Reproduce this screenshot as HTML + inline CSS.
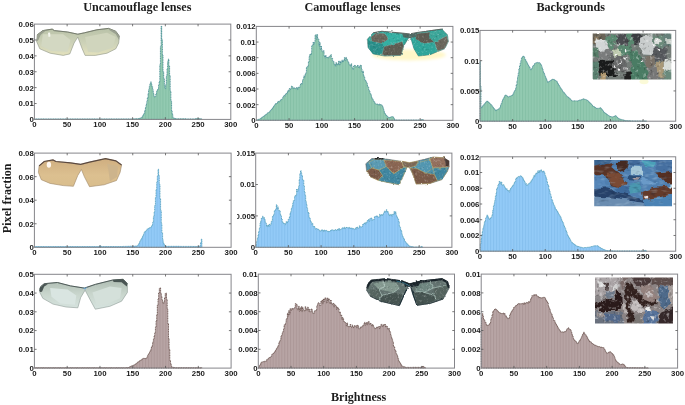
<!DOCTYPE html>
<html><head><meta charset="utf-8"><title>Brightness histograms</title>
<style>
html,body{margin:0;padding:0;background:#fff;}
body{width:685px;height:405px;overflow:hidden;position:relative;}
svg text{font-family:"Liberation Sans",sans-serif;}
.tk text{font-family:"Liberation Sans",sans-serif;font-weight:bold;font-size:7.8px;fill:#1a1a1a;}
.tt text{font-family:"Liberation Serif",serif;font-weight:bold;font-size:12.15px;fill:#1c1c1c;}
</style></head><body>
<svg width="685" height="405" viewBox="0 0 685 405" style="position:absolute;left:0;top:0">
<rect width="685" height="405" fill="#fff"/>
<defs><clipPath id="c5"><rect x="237.0" y="140" width="300" height="120"/></clipPath>
<pattern id="stg" width="2.9" height="10" patternUnits="userSpaceOnUse"><rect width="1.1" height="10" fill="#0a5a40" fill-opacity="0.07"/><rect x="1.6" width="0.8" height="10" fill="#fff" fill-opacity="0.08"/></pattern>
<pattern id="stb" width="2.9" height="10" patternUnits="userSpaceOnUse"><rect width="1.1" height="10" fill="#0a4a80" fill-opacity="0.07"/><rect x="1.6" width="0.8" height="10" fill="#fff" fill-opacity="0.08"/></pattern>
<pattern id="str" width="2.9" height="10" patternUnits="userSpaceOnUse"><rect width="1.1" height="10" fill="#3a1a1a" fill-opacity="0.07"/><rect x="1.6" width="0.8" height="10" fill="#fff" fill-opacity="0.08"/></pattern>
</defs>
<defs><path id="h1" d="M34.4,118.9H34.7V118.9H35.4V118.9H36.0V118.9H36.7V118.9H37.3V118.9H38.0V118.9H38.7V118.9H39.3V118.9H40.0V118.9H40.6V118.9H41.3V118.9H41.9V118.9H42.6V118.9H43.2V118.9H43.9V118.9H44.5V118.9H45.2V118.9H45.9V118.9H46.5V118.9H47.2V118.9H47.8V118.9H48.5V118.9H49.1V118.9H49.8V118.9H50.4V118.9H51.1V118.9H51.7V118.9H52.4V118.9H53.1V118.9H53.7V118.9H54.4V118.9H55.0V118.9H55.7V118.9H56.3V118.9H57.0V118.9H57.6V118.9H58.3V118.9H59.0V118.9H59.6V118.9H60.3V118.9H60.9V118.9H61.6V118.9H62.2V118.9H62.9V118.9H63.5V118.9H64.2V118.9H64.8V118.9H65.5V118.9H66.2V118.9H66.8V118.9H67.5V118.9H68.1V118.9H68.8V118.9H69.4V118.9H70.1V118.9H70.7V118.9H71.4V118.9H72.0V118.9H72.7V118.9H73.4V118.9H74.0V118.9H74.7V118.9H75.3V118.9H76.0V118.9H76.6V118.9H77.3V118.9H77.9V118.9H78.6V118.9H79.2V118.9H79.9V118.9H80.6V118.9H81.2V118.9H81.9V118.9H82.5V118.9H83.2V118.9H83.8V118.9H84.5V118.9H85.1V118.9H85.8V118.9H86.4V118.9H87.1V118.9H87.8V118.9H88.4V118.9H89.1V118.9H89.7V118.9H90.4V118.9H91.0V118.9H91.7V118.9H92.3V118.9H93.0V118.9H93.6V118.9H94.3V118.9H95.0V118.9H95.6V118.9H96.3V118.9H96.9V118.9H97.6V118.9H98.2V118.9H98.9V118.9H99.5V118.9H100.2V118.9H100.8V118.9H101.5V118.9H102.2V118.9H102.8V118.9H103.5V118.9H104.1V118.9H104.8V118.9H105.4V118.9H106.1V118.9H106.7V118.9H107.4V118.9H108.1V118.9H108.7V118.9H109.4V118.9H110.0V118.9H110.7V118.9H111.3V118.9H112.0V118.9H112.6V118.9H113.3V118.9H113.9V118.9H114.6V118.9H115.3V118.9H115.9V118.9H116.6V118.9H117.2V118.9H117.9V118.9H118.5V118.9H119.2V118.9H119.8V118.9H120.5V118.9H121.1V118.9H121.8V118.9H122.5V118.9H123.1V118.9H123.8V118.9H124.4V118.9H125.1V118.9H125.7V118.9H126.4V118.9H127.0V118.9H127.7V118.9H128.3V118.9H129.0V118.9H129.7V118.9H130.3V118.9H131.0V118.9H131.6V118.9H132.3V118.9H132.9V118.9H133.6V118.9H134.2V118.8H134.9V118.8H135.5V118.8H136.2V118.7H136.9V118.7H137.5V118.7H138.2V118.6H138.8V118.6H139.5V118.3H140.1V118.1H140.8V117.8H141.4V117.5H142.1V116.4H142.7V115.3H143.4V114.1H144.1V113.1H144.7V110.3H145.4V107.4H146.0V104.5H146.7V101.7H147.3V97.8H148.0V93.7H148.6V89.8H149.3V86.3H149.9V83.9H150.6V81.9H151.3V84.4H151.9V86.5H152.6V89.7H153.2V93.1H153.9V96.2H154.5V96.9H155.2V96.5H155.8V93.7H156.5V91.2H157.2V89.8H157.8V88.9H158.5V85.3H159.1V81.6H159.8V64.8H160.4V46.7H161.1V26.1H161.7V39.8H162.4V55.2H163.0V71.8H163.7V78.7H164.4V85.7H165.0V88.6H165.7V84.8H166.3V76.0H167.0V68.9H167.6V61.8H168.3V59.1H168.9V65.9H169.6V75.6H170.2V91.0H170.9V101.0H171.6V111.3H172.2V114.6H172.9V117.8H173.5V118.0H174.2V118.3H174.8V118.5H175.5V118.8H176.1V118.8H176.8V118.8H177.4V118.8H178.1V118.8H178.8V118.8H179.4V118.8H180.1V118.8H180.7V118.8H181.4V118.8H182.0V118.8H182.7V118.8H183.3V118.8H184.0V118.8H184.6V118.8H185.3V118.8H186.0V118.9H186.6V118.9H187.3V118.9H187.9V118.9H188.6V118.9H189.2V118.9H189.9V118.9H190.5V118.9H191.2V118.9H191.8V118.9H192.5V118.9H193.2V118.9H193.8V118.9H194.5V118.9H195.1V118.8H195.8V118.7H196.4V118.6H197.1V118.5H197.7V118.4H198.4V118.5H199.0V118.6H199.7V118.7H200.4V118.8H201.0V118.9H201.7V119.4H34.4Z"/></defs>
<use href="#h1" fill="#8ec8ae"/>
<use href="#h1" fill="url(#stg)"/>
<use href="#h1" fill="none" stroke="#3c8590" stroke-width="0.8" stroke-dasharray="1.1 0.6" stroke-linejoin="round"/>
<defs><path id="h2" d="M256.3,120.3H256.6V120.0H257.3V119.8H257.9V119.5H258.6V119.2H259.2V119.0H259.9V118.8H260.6V118.3H261.2V117.8H261.9V117.2H262.5V116.9H263.2V116.3H263.8V116.0H264.5V115.5H265.1V114.8H265.8V114.4H266.5V113.9H267.1V113.3H267.8V112.7H268.4V112.5H269.1V111.9H269.7V111.2H270.4V110.4H271.0V109.4H271.7V108.8H272.4V107.9H273.0V107.1H273.7V105.7H274.3V105.2H275.0V104.3H275.6V103.6H276.3V103.9H276.9V102.9H277.6V101.6H278.3V101.2H278.9V101.8H279.6V101.2H280.2V100.0H280.9V100.1H281.5V99.2H282.2V98.9H282.8V97.1H283.5V96.2H284.2V95.2H284.8V96.0H285.5V94.0H286.1V93.3H286.8V93.8H287.4V91.2H288.1V90.1H288.7V91.3H289.4V88.5H290.0V89.3H290.7V88.3H291.4V86.0H292.0V86.5H292.7V88.6H293.3V87.9H294.0V87.7H294.6V88.3H295.3V88.8H295.9V88.5H296.6V87.5H297.3V89.6H297.9V87.6H298.6V87.1H299.2V87.5H299.9V85.7H300.5V83.9H301.2V83.3H301.8V84.0H302.5V79.9H303.2V79.0H303.8V75.9H304.5V77.0H305.1V74.1H305.8V72.9H306.4V67.3H307.1V67.4H307.7V65.8H308.4V61.8H309.1V56.5H309.7V54.3H310.4V55.0H311.0V53.1H311.7V45.6H312.3V45.5H313.0V42.2H313.6V44.2H314.3V42.2H315.0V35.2H315.6V34.8H316.3V39.3H316.9V34.6H317.6V38.7H318.2V39.3H318.9V46.0H319.5V42.4H320.2V49.5H320.9V46.0H321.5V49.8H322.2V51.8H322.8V51.7H323.5V50.7H324.1V55.9H324.8V57.9H325.4V55.5H326.1V57.1H326.7V57.7H327.4V57.3H328.1V57.9H328.7V56.9H329.4V56.2H330.0V56.1H330.7V54.6H331.3V58.4H332.0V58.3H332.6V61.2H333.3V61.4H334.0V64.3H334.6V64.1H335.3V66.4H335.9V62.6H336.6V63.4H337.2V65.1H337.9V63.5H338.5V61.0H339.2V65.1H339.9V61.3H340.5V63.1H341.2V62.4H341.8V60.1H342.5V62.0H343.1V61.0H343.8V59.6H344.4V57.5H345.1V60.6H345.8V57.4H346.4V58.8H347.1V59.8H347.7V61.7H348.4V62.6H349.0V64.7H349.7V65.0H350.3V66.2H351.0V63.7H351.7V66.9H352.3V68.2H353.0V69.4H353.6V66.0H354.3V65.3H354.9V65.7H355.6V67.1H356.2V66.8H356.9V66.0H357.5V65.2H358.2V67.3H358.9V66.4H359.5V67.9H360.2V65.1H360.8V65.6H361.5V69.4H362.1V72.5H362.8V71.1H363.4V75.6H364.1V77.1H364.8V80.2H365.4V80.5H366.1V81.9H366.7V83.6H367.4V86.4H368.0V87.2H368.7V90.4H369.3V91.3H370.0V93.4H370.7V94.3H371.3V96.8H372.0V98.5H372.6V99.5H373.3V100.9H373.9V101.6H374.6V102.9H375.2V103.9H375.9V104.1H376.6V104.1H377.2V104.0H377.9V104.7H378.5V104.9H379.2V104.0H379.8V105.3H380.5V104.6H381.1V104.8H381.8V105.7H382.5V106.7H383.1V108.8H383.8V111.1H384.4V113.1H385.1V113.9H385.7V115.0H386.4V115.6H387.0V116.4H387.7V117.1H388.3V117.9H389.0V117.6H389.7V117.5H390.3V117.1H391.0V116.9H391.6V116.7H392.3V116.6H392.9V117.0H393.6V118.0H394.2V119.0H394.9V120.1H395.6V120.1H396.2V120.1H396.9V120.1H397.5V120.1H398.2V120.1H398.8V120.1H399.5V120.1H400.1V120.1H400.8V120.1H401.5V120.1H402.1V120.1H402.8V120.1H403.4V120.1H404.1V120.1H404.7V120.1H405.4V120.1H406.0V120.1H406.7V120.1H407.4V120.1H408.0V120.1H408.7V120.1H409.3V120.1H410.0V120.1H410.6V120.1H411.3V120.1H411.9V120.1H412.6V120.1H413.3V120.1H413.9V120.1H414.6V120.1H415.2V120.1H415.9V120.1H416.5V120.1H417.2V120.1H417.8V120.1H418.5V120.1H419.2V120.1H419.8V120.1H420.5V120.0H421.1V119.8H421.8V119.7H422.4V119.5H423.1V120.1H423.7V120.3H256.3Z"/></defs>
<use href="#h2" fill="#8ec8ae"/>
<use href="#h2" fill="url(#stg)"/>
<use href="#h2" fill="none" stroke="#3c8590" stroke-width="0.8" stroke-dasharray="1.1 0.6" stroke-linejoin="round"/>
<defs><path id="h3" d="M480.0,61.3H480.3V86.2H481.0V107.8H481.6V107.1H482.3V106.2H482.9V105.4H483.6V104.8H484.2V103.9H484.9V103.0H485.5V102.3H486.2V101.7H486.8V101.0H487.5V101.6H488.2V102.0H488.8V102.8H489.5V103.3H490.1V104.0H490.8V104.7H491.4V105.4H492.1V106.4H492.7V107.1H493.4V108.0H494.0V108.8H494.7V109.7H495.3V110.6H496.0V110.1H496.6V109.9H497.3V109.6H497.9V109.3H498.6V108.8H499.2V108.5H499.9V106.8H500.5V105.1H501.2V103.3H501.9V101.5H502.5V99.6H503.2V98.4H503.8V97.1H504.5V95.9H505.1V95.1H505.8V95.2H506.4V95.7H507.1V96.0H507.7V96.7H508.4V97.0H509.0V96.7H509.7V96.1H510.3V96.0H511.0V95.7H511.6V95.4H512.3V95.1H512.9V93.9H513.6V92.6H514.2V90.9H514.9V89.9H515.6V88.3H516.2V84.8H516.9V80.9H517.5V76.9H518.2V73.3H518.8V69.2H519.5V66.0H520.1V63.3H520.8V60.7H521.4V58.1H522.1V57.1H522.7V56.4H523.4V56.1H524.0V57.2H524.7V59.2H525.3V59.8H526.0V61.3H526.6V62.2H527.3V63.6H527.9V65.1H528.6V66.5H529.3V67.0H529.9V68.9H530.6V69.8H531.2V68.9H531.9V67.9H532.5V66.5H533.2V65.3H533.8V64.9H534.5V63.5H535.1V63.5H535.8V62.8H536.4V62.6H537.1V62.4H537.7V62.7H538.4V63.0H539.0V62.7H539.7V63.4H540.3V64.0H541.0V65.1H541.6V66.9H542.3V69.2H543.0V71.2H543.6V73.0H544.3V74.7H544.9V76.1H545.6V77.9H546.2V79.4H546.9V81.0H547.5V82.4H548.2V81.8H548.8V81.4H549.5V81.2H550.1V80.7H550.8V80.2H551.4V79.8H552.1V79.4H552.7V79.1H553.4V79.4H554.0V79.4H554.7V80.4H555.3V80.6H556.0V81.0H556.6V81.3H557.3V82.8H558.0V84.0H558.6V85.1H559.3V86.2H559.9V87.4H560.6V88.3H561.2V89.2H561.9V90.1H562.5V91.4H563.2V92.2H563.8V92.8H564.5V93.6H565.1V94.6H565.8V95.4H566.4V96.2H567.1V96.7H567.7V97.0H568.4V97.6H569.0V98.2H569.7V98.7H570.3V99.5H571.0V100.1H571.7V100.7H572.3V100.9H573.0V100.9H573.6V100.8H574.3V100.8H574.9V100.9H575.6V100.8H576.2V100.9H576.9V100.9H577.5V101.0H578.2V100.5H578.8V100.5H579.5V100.0H580.1V99.9H580.8V99.8H581.4V99.7H582.1V99.4H582.7V99.1H583.4V98.8H584.0V99.1H584.7V99.4H585.4V99.6H586.0V99.9H586.7V100.2H587.3V100.6H588.0V101.0H588.6V101.9H589.3V102.5H589.9V103.1H590.6V103.7H591.2V104.5H591.9V105.1H592.5V105.9H593.2V106.4H593.8V106.8H594.5V107.1H595.1V107.6H595.8V108.1H596.4V108.6H597.1V108.4H597.7V108.3H598.4V108.2H599.1V108.1H599.7V107.9H600.4V107.8H601.0V108.7H601.7V109.6H602.3V110.3H603.0V111.1H603.6V111.9H604.3V112.8H604.9V113.1H605.6V113.6H606.2V114.1H606.9V114.6H607.5V114.9H608.2V115.5H608.8V115.9H609.5V116.4H610.1V116.5H610.8V116.6H611.4V116.8H612.1V116.9H612.7V116.7H613.4V116.5H614.1V116.3H614.7V116.0H615.4V115.7H616.0V116.3H616.7V117.0H617.3V117.6H618.0V118.2H618.6V118.8H619.3V119.0H619.9V119.2H620.6V119.3H621.2V119.5H621.9V119.7H622.5V119.9H623.2V120.0H623.8V120.2H624.5V120.4H625.1V120.6H625.8V120.6H626.4V120.7H627.1V120.7H627.8V120.7H628.4V120.8H629.1V120.8H629.7V120.8H630.4V120.9H631.0V120.9H631.7V120.9H632.3V121.0H633.0V121.0H633.6V121.0H634.3V121.0H634.9V121.0H635.6V121.0H636.2V121.0H636.9V121.0H637.5V121.0H638.2V121.0H638.8V121.0H639.5V121.0H640.1V121.1H640.8V121.1H641.5V121.1H642.1V121.1H642.8V121.1H643.4V121.1H644.1V121.1H644.7V121.1H645.4V121.1H646.0V121.1H646.7V121.2H480.0Z"/></defs>
<use href="#h3" fill="#8ec8ae"/>
<use href="#h3" fill="url(#stg)"/>
<use href="#h3" fill="none" stroke="#3c8590" stroke-width="0.8" stroke-dasharray="1.1 0.6" stroke-linejoin="round"/>
<defs><path id="h4" d="M34.4,246.6H34.7V246.6H35.4V246.6H36.0V246.6H36.7V246.6H37.4V246.6H38.0V246.6H38.7V246.6H39.3V246.6H40.0V246.6H40.6V246.6H41.3V246.6H41.9V246.6H42.6V246.6H43.3V246.6H43.9V246.6H44.6V246.6H45.2V246.6H45.9V246.6H46.5V246.6H47.2V246.6H47.8V246.6H48.5V246.6H49.2V246.6H49.8V246.6H50.5V246.6H51.1V246.6H51.8V246.6H52.4V246.6H53.1V246.6H53.7V246.6H54.4V246.6H55.1V246.6H55.7V246.6H56.4V246.6H57.0V246.6H57.7V246.6H58.3V246.6H59.0V246.6H59.6V246.6H60.3V246.6H61.0V246.6H61.6V246.6H62.3V246.6H62.9V246.6H63.6V246.6H64.2V246.6H64.9V246.6H65.5V246.6H66.2V246.6H66.9V246.6H67.5V246.6H68.2V246.6H68.8V246.6H69.5V246.6H70.1V246.6H70.8V246.6H71.4V246.6H72.1V246.6H72.8V246.6H73.4V246.6H74.1V246.6H74.7V246.6H75.4V246.6H76.0V246.6H76.7V246.6H77.3V246.6H78.0V246.6H78.7V246.6H79.3V246.6H80.0V246.6H80.6V246.6H81.3V246.6H81.9V246.6H82.6V246.6H83.2V246.6H83.9V246.6H84.6V246.6H85.2V246.6H85.9V246.6H86.5V246.6H87.2V246.6H87.8V246.6H88.5V246.6H89.1V246.6H89.8V246.6H90.5V246.6H91.1V246.6H91.8V246.6H92.4V246.6H93.1V246.6H93.7V246.6H94.4V246.6H95.0V246.6H95.7V246.6H96.4V246.6H97.0V246.6H97.7V246.6H98.3V246.6H99.0V246.2H99.6V245.9H100.3V246.1H101.0V246.3H101.6V246.5H102.3V246.5H102.9V246.5H103.6V246.5H104.2V246.5H104.9V246.5H105.5V246.5H106.2V246.5H106.9V246.5H107.5V246.5H108.2V246.5H108.8V246.5H109.5V246.5H110.1V246.5H110.8V246.5H111.4V246.5H112.1V246.5H112.8V246.5H113.4V246.5H114.1V246.5H114.7V246.5H115.4V246.5H116.0V246.5H116.7V246.5H117.3V246.5H118.0V246.5H118.7V246.5H119.3V246.5H120.0V246.5H120.6V246.5H121.3V246.5H121.9V246.5H122.6V246.5H123.2V246.4H123.9V246.4H124.6V246.4H125.2V246.4H125.9V246.4H126.5V246.3H127.2V246.3H127.8V246.3H128.5V246.3H129.1V246.2H129.8V246.2H130.5V246.2H131.1V246.2H131.8V246.2H132.4V246.1H133.1V246.1H133.7V246.1H134.4V246.1H135.0V246.1H135.7V246.1H136.4V246.1H137.0V245.8H137.7V245.4H138.3V244.2H139.0V243.0H139.6V241.7H140.3V240.6H140.9V239.3H141.6V238.0H142.3V236.6H142.9V235.4H143.6V234.0H144.2V232.3H144.9V231.5H145.5V231.0H146.2V230.4H146.8V229.2H147.5V228.9H148.2V228.3H148.8V228.1H149.5V227.7H150.1V227.7H150.8V227.0H151.4V226.3H152.1V224.4H152.7V222.3H153.4V216.8H154.1V212.0H154.7V205.6H155.4V197.5H156.0V189.4H156.7V182.5H157.3V176.2H158.0V169.2H158.6V175.6H159.3V184.5H160.0V198.7H160.6V210.8H161.3V223.7H161.9V232.9H162.6V239.8H163.2V243.0H163.9V244.3H164.5V245.7H165.2V246.2H165.9V246.3H166.5V246.3H167.2V246.3H167.8V246.3H168.5V246.3H169.1V246.3H169.8V246.3H170.5V246.3H171.1V246.3H171.8V246.3H172.4V246.3H173.1V246.3H173.7V246.3H174.4V246.3H175.0V246.3H175.7V246.3H176.4V246.3H177.0V246.3H177.7V246.3H178.3V246.3H179.0V246.3H179.6V246.3H180.3V246.4H180.9V246.4H181.6V246.4H182.3V246.4H182.9V246.4H183.6V246.4H184.2V246.4H184.9V246.4H185.5V246.4H186.2V246.4H186.8V246.4H187.5V246.4H188.2V246.4H188.8V246.4H189.5V246.4H190.1V246.4H190.8V246.4H191.4V246.4H192.1V246.4H192.7V246.4H193.4V246.5H194.1V246.4H194.7V246.4H195.4V246.5H196.0V246.5H196.7V246.5H197.3V246.5H198.0V246.5H198.6V246.3H199.3V246.1H200.0V246.0H200.6V242.5H201.3V239.0H201.9V247.3H34.4Z"/></defs>
<use href="#h4" fill="#8fc9f7"/>
<use href="#h4" fill="url(#stb)"/>
<use href="#h4" fill="none" stroke="#4a9ab8" stroke-width="0.8" stroke-dasharray="1.1 0.6" stroke-linejoin="round"/>
<defs><path id="h5" d="M255.7,247.3H256.0V244.2H256.7V241.0H257.3V238.1H258.0V235.1H258.6V231.5H259.3V228.3H260.0V222.9H260.6V221.1H261.3V218.0H261.9V218.0H262.6V216.2H263.2V218.7H263.9V217.7H264.5V219.6H265.2V222.6H265.8V223.4H266.5V226.5H267.1V226.1H267.8V225.0H268.5V226.6H269.1V224.1H269.8V224.7H270.4V225.0H271.1V221.7H271.7V221.0H272.4V216.5H273.0V215.6H273.7V214.4H274.3V210.8H275.0V210.1H275.6V209.3H276.3V204.7H277.0V209.1H277.6V206.9H278.3V210.5H278.9V210.4H279.6V211.0H280.2V214.4H280.9V216.0H281.5V219.0H282.2V221.8H282.8V222.8H283.5V223.6H284.1V223.5H284.8V224.7H285.5V223.6H286.1V221.6H286.8V222.8H287.4V221.7H288.1V219.5H288.7V219.1H289.4V216.8H290.0V213.1H290.7V211.7H291.3V208.3H292.0V206.7H292.7V202.9H293.3V200.6H294.0V200.4H294.6V196.2H295.3V195.3H295.9V195.6H296.6V189.0H297.2V191.6H297.9V189.8H298.5V186.7H299.2V179.2H299.8V173.7H300.5V170.7H301.2V173.5H301.8V175.6H302.5V179.8H303.1V180.1H303.8V185.9H304.4V192.3H305.1V195.6H305.7V201.7H306.4V204.4H307.0V208.7H307.7V212.8H308.3V212.5H309.0V217.7H309.7V218.1H310.3V220.7H311.0V222.6H311.6V224.2H312.3V223.4H312.9V226.4H313.6V226.3H314.2V226.5H314.9V228.8H315.5V229.0H316.2V228.5H316.8V229.0H317.5V229.1H318.2V229.1H318.8V230.6H319.5V230.7H320.1V230.8H320.8V231.3H321.4V229.8H322.1V230.0H322.7V230.2H323.4V231.6H324.0V230.1H324.7V230.3H325.4V230.9H326.0V230.4H326.7V231.0H327.3V231.5H328.0V231.6H328.6V231.3H329.3V231.6H329.9V231.0H330.6V230.1H331.2V230.1H331.9V229.8H332.5V229.9H333.2V230.7H333.9V230.1H334.5V230.2H335.2V229.5H335.8V229.9H336.5V230.3H337.1V229.5H337.8V228.8H338.4V230.1H339.1V228.7H339.7V230.2H340.4V229.6H341.0V229.5H341.7V228.3H342.4V227.7H343.0V227.9H343.7V228.7H344.3V227.3H345.0V228.4H345.6V228.4H346.3V227.1H346.9V227.8H347.6V227.7H348.2V227.9H348.9V227.4H349.5V228.5H350.2V227.9H350.9V228.3H351.5V228.0H352.2V229.0H352.8V228.5H353.5V228.9H354.1V229.2H354.8V229.1H355.4V228.0H356.1V228.9H356.7V226.9H357.4V228.2H358.1V228.2H358.7V227.8H359.4V225.7H360.0V226.7H360.7V226.9H361.3V226.9H362.0V226.4H362.6V224.3H363.3V224.0H363.9V223.4H364.6V222.8H365.2V224.1H365.9V222.2H366.6V222.3H367.2V220.6H367.9V220.1H368.5V219.4H369.2V221.4H369.8V218.7H370.5V218.3H371.1V217.9H371.8V220.2H372.4V219.6H373.1V219.6H373.7V219.5H374.4V216.6H375.1V216.4H375.7V216.7H376.4V215.8H377.0V216.1H377.7V216.9H378.3V217.3H379.0V217.0H379.6V214.3H380.3V216.0H380.9V215.2H381.6V214.5H382.2V215.5H382.9V214.1H383.6V213.4H384.2V211.2H384.9V212.0H385.5V211.6H386.2V209.7H386.8V212.1H387.5V211.4H388.1V212.9H388.8V215.6H389.4V214.7H390.1V215.1H390.8V214.4H391.4V216.4H392.1V214.4H392.7V214.3H393.4V214.7H394.0V211.5H394.7V213.7H395.3V211.8H396.0V215.0H396.6V216.4H397.3V218.3H397.9V219.2H398.6V221.4H399.3V226.5H399.9V227.6H400.6V229.9H401.2V231.6H401.9V234.8H402.5V236.6H403.2V238.1H403.8V239.0H404.5V240.8H405.1V241.7H405.8V242.8H406.4V243.4H407.1V243.9H407.8V244.7H408.4V245.4H409.1V246.0H409.7V246.2H410.4V246.3H411.0V246.5H411.7V246.6H412.3V246.8H413.0V247.0H413.6V247.1H414.3V247.1H414.9V247.1H415.6V247.1H416.3V247.1H416.9V247.1H417.6V247.1H418.2V247.1H418.9V247.1H419.5V247.1H420.2V247.1H420.8V246.7H421.5V246.4H422.1V247.0H422.8V247.3H255.7Z"/></defs>
<use href="#h5" fill="#8fc9f7"/>
<use href="#h5" fill="url(#stb)"/>
<use href="#h5" fill="none" stroke="#4a9ab8" stroke-width="0.8" stroke-dasharray="1.1 0.6" stroke-linejoin="round"/>
<defs><path id="h6" d="M480.0,251.2H480.3V243.8H481.0V238.6H481.6V234.8H482.3V231.2H482.9V228.1H483.6V225.8H484.2V222.7H484.9V220.6H485.5V218.5H486.2V217.3H486.8V215.1H487.5V216.0H488.2V217.6H488.8V219.5H489.5V219.3H490.1V217.9H490.8V217.7H491.4V216.9H492.1V214.2H492.7V210.0H493.4V206.2H494.0V203.7H494.7V200.2H495.3V196.5H496.0V192.8H496.6V188.8H497.3V187.3H497.9V185.3H498.6V184.1H499.2V181.3H499.9V182.1H500.5V183.9H501.2V182.0H501.9V185.0H502.5V185.2H503.2V184.6H503.8V185.9H504.5V186.9H505.1V188.1H505.8V189.2H506.4V188.7H507.1V190.3H507.7V190.6H508.4V190.7H509.0V192.0H509.7V190.2H510.3V188.4H511.0V187.7H511.6V187.2H512.3V186.0H512.9V185.1H513.6V184.7H514.2V182.3H514.9V181.6H515.6V179.5H516.2V177.8H516.9V178.4H517.5V177.5H518.2V176.4H518.8V176.7H519.5V176.7H520.1V175.8H520.8V176.0H521.4V176.8H522.1V177.5H522.7V178.2H523.4V179.8H524.0V181.0H524.7V182.6H525.3V184.0H526.0V183.6H526.6V185.3H527.3V184.9H527.9V184.4H528.6V183.7H529.3V183.0H529.9V183.0H530.6V181.6H531.2V180.6H531.9V179.3H532.5V178.9H533.2V177.2H533.8V175.6H534.5V176.6H535.1V174.4H535.8V173.1H536.4V173.6H537.1V172.7H537.7V170.8H538.4V172.9H539.0V170.8H539.7V172.0H540.3V170.2H541.0V169.8H541.6V171.1H542.3V172.3H543.0V171.0H543.6V171.2H544.3V172.7H544.9V175.2H545.6V176.9H546.2V178.7H546.9V181.7H547.5V184.3H548.2V185.3H548.8V189.5H549.5V191.1H550.1V194.3H550.8V196.2H551.4V200.0H552.1V199.9H552.7V202.6H553.4V204.6H554.0V205.7H554.7V207.0H555.3V209.1H556.0V209.6H556.6V210.7H557.3V211.4H558.0V213.0H558.6V214.2H559.3V215.4H559.9V216.2H560.6V217.4H561.2V219.3H561.9V221.1H562.5V221.9H563.2V223.8H563.8V225.7H564.5V227.5H565.1V228.7H565.8V230.5H566.4V232.4H567.1V234.2H567.7V235.5H568.4V236.9H569.0V237.9H569.7V239.5H570.3V240.6H571.0V241.9H571.7V242.4H572.3V243.0H573.0V243.6H573.6V244.0H574.3V244.6H574.9V245.0H575.6V245.6H576.2V245.9H576.9V246.2H577.5V246.3H578.2V246.5H578.8V246.7H579.5V246.9H580.1V247.1H580.8V247.2H581.4V247.5H582.1V247.7H582.7V247.7H583.4V247.7H584.0V247.6H584.7V247.6H585.4V247.5H586.0V247.5H586.7V247.4H587.3V247.3H588.0V247.4H588.6V247.2H589.3V247.1H589.9V246.9H590.6V246.9H591.2V246.6H591.9V246.4H592.5V246.4H593.2V246.2H593.8V245.8H594.5V245.8H595.1V245.8H595.8V245.8H596.4V245.8H597.1V245.7H597.7V246.1H598.4V246.7H599.1V247.2H599.7V247.5H600.4V248.0H601.0V248.4H601.7V248.6H602.3V248.9H603.0V249.2H603.6V249.5H604.3V249.8H604.9V250.1H605.6V250.4H606.2V250.5H606.9V250.5H607.5V250.6H608.2V250.6H608.8V250.6H609.5V250.7H610.1V250.7H610.8V250.8H611.4V250.8H612.1V250.9H612.7V250.9H613.4V251.0H614.1V251.0H614.7V251.0H615.4V251.0H616.0V251.0H616.7V251.0H617.3V251.0H618.0V251.0H618.6V251.0H619.3V251.0H619.9V251.0H620.6V251.0H621.2V251.0H621.9V251.0H622.5V251.0H623.2V251.0H623.8V251.0H624.5V251.0H625.1V251.0H625.8V251.0H626.4V251.0H627.1V251.0H627.8V251.0H628.4V251.0H629.1V251.0H629.7V251.0H630.4V251.0H631.0V251.0H631.7V251.0H632.3V251.0H633.0V251.0H633.6V251.0H634.3V251.0H634.9V251.0H635.6V251.0H636.2V251.0H636.9V251.0H637.5V251.0H638.2V251.0H638.8V251.0H639.5V251.0H640.1V251.0H640.8V251.0H641.5V251.0H642.1V251.0H642.8V251.0H643.4V250.9H644.1V250.7H644.7V250.6H645.4V250.4H646.0V251.0H646.7V251.2H480.0Z"/></defs>
<use href="#h6" fill="#8fc9f7"/>
<use href="#h6" fill="url(#stb)"/>
<use href="#h6" fill="none" stroke="#4a9ab8" stroke-width="0.8" stroke-dasharray="1.1 0.6" stroke-linejoin="round"/>
<defs><path id="h7" d="M34.4,367.7H34.7V367.7H35.4V367.7H36.0V367.7H36.7V367.7H37.4V367.7H38.0V367.7H38.7V367.7H39.3V367.7H40.0V367.7H40.6V367.7H41.3V367.7H41.9V367.7H42.6V367.7H43.3V367.7H43.9V367.7H44.6V367.7H45.2V367.7H45.9V367.7H46.5V367.7H47.2V367.7H47.8V367.7H48.5V367.7H49.2V367.7H49.8V367.7H50.5V367.7H51.1V367.7H51.8V367.7H52.4V367.7H53.1V367.7H53.7V367.7H54.4V367.7H55.1V367.7H55.7V367.7H56.4V367.7H57.0V367.7H57.7V367.7H58.3V367.7H59.0V367.7H59.6V367.7H60.3V367.7H61.0V367.7H61.6V367.7H62.3V367.7H62.9V367.7H63.6V367.7H64.2V367.7H64.9V367.7H65.5V367.7H66.2V367.7H66.9V367.7H67.5V367.7H68.2V367.7H68.8V367.7H69.5V367.7H70.1V367.7H70.8V367.7H71.4V367.7H72.1V367.7H72.8V367.7H73.4V367.7H74.1V367.7H74.7V367.7H75.4V367.7H76.0V367.7H76.7V367.7H77.3V367.7H78.0V367.7H78.7V367.7H79.3V367.7H80.0V367.7H80.6V367.7H81.3V367.7H81.9V367.7H82.6V367.7H83.2V367.7H83.9V367.7H84.6V367.7H85.2V367.7H85.9V367.7H86.5V367.7H87.2V367.7H87.8V367.7H88.5V367.7H89.1V367.7H89.8V367.7H90.5V367.7H91.1V367.7H91.8V367.7H92.4V367.7H93.1V367.7H93.7V367.7H94.4V367.7H95.0V367.7H95.7V367.7H96.4V367.7H97.0V367.7H97.7V367.7H98.3V367.7H99.0V367.7H99.6V367.7H100.3V367.7H101.0V367.7H101.6V367.7H102.3V367.7H102.9V367.7H103.6V367.7H104.2V367.7H104.9V367.7H105.5V367.7H106.2V367.7H106.9V367.7H107.5V367.7H108.2V367.7H108.8V367.7H109.5V367.7H110.1V367.7H110.8V367.7H111.4V367.7H112.1V367.7H112.8V367.7H113.4V367.7H114.1V367.7H114.7V367.7H115.4V367.7H116.0V367.7H116.7V367.7H117.3V367.7H118.0V367.7H118.7V367.7H119.3V367.7H120.0V367.7H120.6V367.7H121.3V367.7H121.9V367.7H122.6V367.7H123.2V367.7H123.9V367.7H124.6V367.7H125.2V367.7H125.9V367.6H126.5V367.6H127.2V367.6H127.8V367.5H128.5V367.2H129.1V367.0H129.8V366.7H130.5V366.4H131.1V366.1H131.8V365.8H132.4V365.6H133.1V365.3H133.7V365.0H134.4V364.8H135.0V364.2H135.7V363.7H136.4V363.3H137.0V362.7H137.7V362.1H138.3V361.7H139.0V361.2H139.6V360.7H140.3V360.3H140.9V359.9H141.6V359.4H142.3V358.8H142.9V358.4H143.6V358.2H144.2V358.5H144.9V358.4H145.5V358.6H146.2V358.3H146.8V357.0H147.5V355.7H148.2V354.5H148.8V353.5H149.5V352.3H150.1V350.8H150.8V349.0H151.4V347.1H152.1V345.1H152.7V342.1H153.4V339.2H154.1V335.7H154.7V332.7H155.4V327.5H156.0V321.2H156.7V314.6H157.3V305.3H158.0V298.5H158.6V293.0H159.3V288.5H160.0V287.8H160.6V293.3H161.3V296.0H161.9V299.7H162.6V302.5H163.2V303.5H163.9V301.6H164.5V297.7H165.2V293.5H165.9V293.1H166.5V299.2H167.2V308.9H167.8V323.6H168.5V338.3H169.1V349.2H169.8V360.5H170.5V363.3H171.1V366.0H171.8V367.2H172.4V367.3H173.1V367.4H173.7V367.5H174.4V367.6H175.0V367.7H175.7V367.7H176.4V367.7H177.0V367.7H177.7V367.7H178.3V367.7H179.0V367.7H179.6V367.7H180.3V367.7H180.9V367.7H181.6V367.7H182.3V367.7H182.9V367.7H183.6V367.7H184.2V367.7H184.9V367.7H185.5V367.7H186.2V367.7H186.8V367.7H187.5V367.7H188.2V367.7H188.8V367.7H189.5V367.7H190.1V367.7H190.8V367.7H191.4V367.7H192.1V367.7H192.7V367.7H193.4V367.7H194.1V367.7H194.7V367.7H195.4V367.7H196.0V367.7H196.7V367.7H197.3V367.7H198.0V367.7H198.6V367.7H199.3V367.7H200.0V367.7H200.6V367.7H201.3V367.7H201.9V368.1H34.4Z"/></defs>
<use href="#h7" fill="#b5a1a1"/>
<use href="#h7" fill="url(#str)"/>
<use href="#h7" fill="none" stroke="#5e4540" stroke-width="0.8" stroke-dasharray="1.1 0.6" stroke-linejoin="round"/>
<defs><path id="h8" d="M258.3,368.1H258.6V366.9H259.3V365.7H259.9V364.6H260.6V363.2H261.2V362.2H261.9V362.0H262.6V361.9H263.2V361.5H263.9V361.8H264.5V361.2H265.2V361.4H265.8V361.0H266.5V359.8H267.1V359.8H267.8V358.7H268.4V358.2H269.1V357.6H269.7V357.7H270.4V356.9H271.1V356.4H271.7V354.7H272.4V353.9H273.0V353.4H273.7V352.8H274.3V352.1H275.0V350.6H275.6V350.3H276.3V348.5H276.9V347.9H277.6V346.3H278.2V345.2H278.9V342.2H279.6V341.1H280.2V340.0H280.9V335.9H281.5V335.5H282.2V332.9H282.8V331.6H283.5V329.2H284.1V324.8H284.8V324.6H285.4V323.1H286.1V319.5H286.7V318.1H287.4V313.3H288.1V316.0H288.7V310.6H289.4V314.1H290.0V308.7H290.7V308.8H291.3V310.3H292.0V308.4H292.6V309.0H293.3V308.8H293.9V308.6H294.6V307.3H295.3V303.6H295.9V304.0H296.6V304.8H297.2V309.7H297.9V309.1H298.5V306.2H299.2V311.1H299.8V307.9H300.5V310.4H301.1V306.6H301.8V311.6H302.4V307.3H303.1V309.6H303.8V310.6H304.4V311.2H305.1V306.6H305.7V308.3H306.4V310.4H307.0V309.3H307.7V307.0H308.3V310.9H309.0V309.2H309.6V311.8H310.3V311.8H310.9V308.9H311.6V309.5H312.3V312.4H312.9V313.3H313.6V313.5H314.2V311.0H314.9V310.9H315.5V310.6H316.2V309.6H316.8V305.9H317.5V303.9H318.1V302.8H318.8V303.6H319.4V305.2H320.1V305.5H320.8V301.1H321.4V302.4H322.1V300.0H322.7V303.8H323.4V298.9H324.0V301.6H324.7V298.2H325.3V297.8H326.0V299.8H326.6V303.0H327.3V297.9H328.0V300.9H328.6V298.8H329.3V302.8H329.9V303.5H330.6V300.0H331.2V303.1H331.9V304.7H332.5V304.0H333.2V303.2H333.8V307.0H334.5V304.5H335.1V305.4H335.8V306.1H336.5V309.4H337.1V307.3H337.8V307.8H338.4V308.7H339.1V312.6H339.7V312.1H340.4V315.2H341.0V314.9H341.7V319.6H342.3V317.4H343.0V318.6H343.6V321.3H344.3V321.9H345.0V322.6H345.6V323.3H346.3V326.0H346.9V323.0H347.6V326.1H348.2V326.3H348.9V326.8H349.5V326.3H350.2V324.2H350.8V327.4H351.5V327.2H352.1V325.1H352.8V327.1H353.5V327.8H354.1V325.7H354.8V325.9H355.4V326.1H356.1V325.6H356.7V327.9H357.4V325.2H358.0V326.0H358.7V328.8H359.3V328.8H360.0V327.5H360.7V326.8H361.3V327.0H362.0V327.0H362.6V325.3H363.3V325.7H363.9V323.5H364.6V322.3H365.2V325.1H365.9V323.3H366.5V322.5H367.2V324.8H367.8V322.0H368.5V321.5H369.2V323.8H369.8V324.3H370.5V323.2H371.1V325.0H371.8V326.0H372.4V324.5H373.1V325.6H373.7V327.7H374.4V328.5H375.0V328.6H375.7V328.7H376.3V327.2H377.0V327.8H377.7V326.9H378.3V326.8H379.0V326.3H379.6V328.7H380.3V326.6H380.9V324.5H381.6V324.3H382.2V326.6H382.9V325.6H383.5V324.5H384.2V325.2H384.8V324.3H385.5V326.8H386.2V326.1H386.8V326.6H387.5V329.1H388.1V329.4H388.8V328.2H389.4V331.0H390.1V332.7H390.7V335.8H391.4V337.6H392.0V339.7H392.7V342.0H393.4V346.1H394.0V346.9H394.7V349.5H395.3V350.8H396.0V353.4H396.6V354.9H397.3V356.4H397.9V358.6H398.6V360.7H399.2V361.7H399.9V362.9H400.5V363.8H401.2V365.1H401.9V366.3H402.5V366.4H403.2V366.6H403.8V366.8H404.5V366.9H405.1V367.2H405.8V367.4H406.4V367.4H407.1V367.3H407.7V367.4H408.4V367.4H409.0V367.4H409.7V367.4H410.4V367.4H411.0V367.4H411.7V367.4H412.3V367.4H413.0V367.3H413.6V367.3H414.3V367.3H414.9V367.3H415.6V367.3H416.2V367.4H416.9V367.3H417.5V367.4H418.2V367.3H418.9V367.3H419.5V367.4H420.2V367.4H420.8V367.1H421.5V366.8H422.1V366.5H422.8V366.2H423.4V366.7H424.1V367.2H424.7V367.6H425.4V368.1H258.3Z"/></defs>
<use href="#h8" fill="#b5a1a1"/>
<use href="#h8" fill="url(#str)"/>
<use href="#h8" fill="none" stroke="#5e4540" stroke-width="0.8" stroke-dasharray="1.1 0.6" stroke-linejoin="round"/>
<defs><path id="h9" d="M481.2,325.4H481.5V317.4H482.2V313.5H482.8V315.9H483.5V318.9H484.1V320.2H484.8V322.1H485.5V322.6H486.1V324.4H486.8V325.5H487.4V325.2H488.1V325.0H488.7V324.8H489.4V323.7H490.0V322.5H490.7V319.5H491.3V317.7H492.0V314.9H492.7V311.6H493.3V310.7H494.0V310.4H494.6V308.9H495.3V309.1H495.9V309.4H496.6V310.3H497.2V310.7H497.9V311.4H498.5V312.4H499.2V312.5H499.9V313.0H500.5V313.5H501.2V314.0H501.8V313.5H502.5V313.5H503.1V313.1H503.8V314.2H504.4V313.5H505.1V315.9H505.8V315.8H506.4V317.1H507.1V318.2H507.7V318.6H508.4V318.8H509.0V317.3H509.7V315.1H510.3V313.2H511.0V311.9H511.6V311.1H512.3V310.0H513.0V309.0H513.6V307.6H514.3V307.3H514.9V306.2H515.6V305.4H516.2V305.4H516.9V305.2H517.5V304.0H518.2V303.6H518.8V303.9H519.5V303.7H520.2V303.8H520.8V303.7H521.5V304.0H522.1V303.3H522.8V303.3H523.4V304.3H524.1V302.8H524.7V304.0H525.4V303.1H526.0V302.8H526.7V302.3H527.4V303.4H528.0V302.7H528.7V301.5H529.3V302.1H530.0V300.8H530.6V298.7H531.3V297.6H531.9V295.6H532.6V295.6H533.2V295.8H533.9V294.6H534.6V295.3H535.2V295.0H535.9V294.5H536.5V295.7H537.2V296.4H537.8V296.6H538.5V297.7H539.1V297.1H539.8V297.5H540.4V297.7H541.1V298.4H541.8V297.8H542.4V297.6H543.1V297.2H543.7V297.3H544.4V297.5H545.0V298.2H545.7V299.9H546.3V300.8H547.0V301.8H547.6V303.2H548.3V306.4H549.0V308.0H549.6V309.4H550.3V312.2H550.9V313.7H551.6V314.4H552.2V316.4H552.9V318.4H553.5V320.3H554.2V320.6H554.9V322.2H555.5V323.4H556.2V324.5H556.8V325.8H557.5V327.3H558.1V328.6H558.8V329.4H559.4V330.2H560.1V331.1H560.7V332.0H561.4V332.1H562.1V331.8H562.7V332.0H563.4V332.3H564.0V331.8H564.7V331.8H565.3V331.6H566.0V330.4H566.6V329.2H567.3V328.9H567.9V327.7H568.6V328.8H569.3V329.3H569.9V329.5H570.6V330.5H571.2V332.1H571.9V334.6H572.5V336.3H573.2V338.3H573.8V339.7H574.5V340.3H575.1V341.2H575.8V341.7H576.5V342.8H577.1V343.7H577.8V343.3H578.4V342.3H579.1V340.8H579.7V340.3H580.4V339.1H581.0V337.8H581.7V336.2H582.3V334.6H583.0V333.5H583.7V332.1H584.3V333.7H585.0V334.7H585.6V335.0H586.3V336.3H586.9V337.0H587.6V338.4H588.2V339.6H588.9V340.6H589.5V341.6H590.2V341.6H590.9V342.4H591.5V343.1H592.2V343.6H592.8V344.1H593.5V344.9H594.1V344.9H594.8V345.3H595.4V345.3H596.1V345.9H596.7V346.0H597.4V346.5H598.1V346.8H598.7V346.5H599.4V346.8H600.0V347.2H600.7V347.0H601.3V347.2H602.0V347.6H602.6V347.5H603.3V347.7H604.0V349.0H604.6V349.9H605.3V351.4H605.9V352.4H606.6V353.3H607.2V353.2H607.9V352.8H608.5V352.1H609.2V351.9H609.8V351.7H610.5V352.5H611.2V353.0H611.8V353.5H612.5V354.1H613.1V354.8H613.8V356.4H614.4V357.7H615.1V359.2H615.7V360.4H616.4V361.5H617.0V362.1H617.7V362.7H618.4V363.2H619.0V363.7H619.7V364.4H620.3V364.6H621.0V364.4H621.6V364.2H622.3V364.0H622.9V363.9H623.6V364.4H624.2V365.3H624.9V366.2H625.6V367.1H626.2V367.6H626.9V367.6H627.5V367.6H628.2V367.7H628.8V367.7H629.5V367.7H630.1V367.7H630.8V367.7H631.4V367.7H632.1V367.7H632.8V367.7H633.4V367.7H634.1V367.7H634.7V367.7H635.4V367.8H636.0V367.8H636.7V367.8H637.3V367.8H638.0V367.8H638.6V367.8H639.3V367.8H640.0V367.8H640.6V367.8H641.3V367.8H641.9V367.8H642.6V367.8H643.2V367.9H643.9V367.9H644.5V367.9H645.2V367.9H645.8V367.9H646.5V367.9H647.2V367.9H647.8V367.9H648.5V368.1H481.2Z"/></defs>
<use href="#h9" fill="#b5a1a1"/>
<use href="#h9" fill="url(#str)"/>
<use href="#h9" fill="none" stroke="#5e4540" stroke-width="0.8" stroke-dasharray="1.1 0.6" stroke-linejoin="round"/>
<defs>
<linearGradient id="gA" x1="0" y1="0" x2="0" y2="1"><stop offset="0" stop-color="#b9c2a8"/><stop offset="0.55" stop-color="#cdd2b8"/><stop offset="1" stop-color="#e3e1bd"/></linearGradient>
<linearGradient id="gB" x1="0" y1="0" x2="0" y2="1"><stop offset="0" stop-color="#cfae80"/><stop offset="0.6" stop-color="#dcc090"/><stop offset="1" stop-color="#d9bd8c"/></linearGradient>
<linearGradient id="gC" x1="0" y1="0" x2="0" y2="1"><stop offset="0" stop-color="#aebcb2"/><stop offset="0.5" stop-color="#c9d6cd"/><stop offset="1" stop-color="#d6e3df"/></linearGradient>
<filter id="bl" x="-10%" y="-10%" width="120%" height="120%"><feGaussianBlur stdDeviation="0.45"/></filter>
<filter id="bl2" x="-20%" y="-20%" width="140%" height="140%"><feGaussianBlur stdDeviation="1.6"/></filter>
<filter id="bl3" x="-10%" y="-10%" width="120%" height="120%" color-interpolation-filters="sRGB"><feTurbulence type="fractalNoise" baseFrequency="0.2" numOctaves="2" seed="3" result="t"/><feDisplacementMap in="SourceGraphic" in2="t" scale="6" xChannelSelector="R" yChannelSelector="G" result="d"/><feTurbulence type="fractalNoise" baseFrequency="0.3" numOctaves="2" seed="11" result="n"/><feColorMatrix in="n" type="matrix" values="0 0 0 0 0  0 0 0 0 0  0 0 0 0 0  3 0 0 0 -1.75" result="na"/><feFlood flood-color="#ffffff" flood-opacity="0.55" result="w"/><feComposite in="w" in2="na" operator="in" result="wn"/><feColorMatrix in="n" type="matrix" values="0 0 0 0 0  0 0 0 0 0  0 0 0 0 0  0 -3 0 0 1.2" result="da"/><feFlood flood-color="#101010" flood-opacity="0.4" result="k"/><feComposite in="k" in2="da" operator="in" result="kn"/><feMerge result="m"><feMergeNode in="d"/><feMergeNode in="wn"/><feMergeNode in="kn"/></feMerge><feGaussianBlur in="m" stdDeviation="0.6"/></filter>
<filter id="bl6" x="-10%" y="-10%" width="120%" height="120%" color-interpolation-filters="sRGB"><feTurbulence type="fractalNoise" baseFrequency="0.09" numOctaves="2" seed="5" result="t"/><feDisplacementMap in="SourceGraphic" in2="t" scale="7" xChannelSelector="R" yChannelSelector="G" result="d"/><feTurbulence type="fractalNoise" baseFrequency="0.12 0.3" numOctaves="2" seed="8" result="n"/><feColorMatrix in="n" type="matrix" values="0 0 0 0 0  0 0 0 0 0  0 0 0 0 0  2.5 0 0 0 -1.3" result="na"/><feFlood flood-color="#c8e0f0" flood-opacity="0.35" result="w"/><feComposite in="w" in2="na" operator="in" result="wn"/><feColorMatrix in="n" type="matrix" values="0 0 0 0 0  0 0 0 0 0  0 0 0 0 0  0 -2.5 0 0 1.0" result="da"/><feFlood flood-color="#0a1830" flood-opacity="0.4" result="k"/><feComposite in="k" in2="da" operator="in" result="kn"/><feMerge result="m"><feMergeNode in="d"/><feMergeNode in="wn"/><feMergeNode in="kn"/></feMerge><feGaussianBlur in="m" stdDeviation="0.6"/></filter>
<filter id="bl4" x="-10%" y="-10%" width="120%" height="120%" color-interpolation-filters="sRGB"><feTurbulence type="fractalNoise" baseFrequency="0.25" numOctaves="2" seed="4" result="t"/><feDisplacementMap in="SourceGraphic" in2="t" scale="2.2" xChannelSelector="R" yChannelSelector="G" result="d"/><feTurbulence type="fractalNoise" baseFrequency="0.45" numOctaves="2" seed="9" result="n"/><feColorMatrix in="n" type="matrix" values="0 0 0 0 0  0 0 0 0 0  0 0 0 0 0  2.5 0 0 0 -1.35" result="na"/><feFlood flood-color="#ffffff" flood-opacity="0.3" result="w"/><feComposite in="w" in2="na" operator="in" result="wn0"/><feComposite in="wn0" in2="d" operator="in" result="wn"/><feColorMatrix in="n" type="matrix" values="0 0 0 0 0  0 0 0 0 0  0 0 0 0 0  0 -2.5 0 0 1.0" result="da"/><feFlood flood-color="#101418" flood-opacity="0.3" result="k"/><feComposite in="k" in2="da" operator="in" result="kn0"/><feComposite in="kn0" in2="d" operator="in" result="kn"/><feMerge result="m"><feMergeNode in="d"/><feMergeNode in="wn"/><feMergeNode in="kn"/></feMerge><feGaussianBlur in="m" stdDeviation="0.45"/></filter>
<clipPath id="k3"><rect x="592.7" y="33.6" width="78.6" height="45.9"/></clipPath>
<clipPath id="k6"><rect x="594.2" y="160" width="77.8" height="46.3"/></clipPath>
<clipPath id="k9"><rect x="595" y="277.6" width="78" height="45.9"/></clipPath>
</defs>
<g filter="url(#bl)">
<polygon points="37.2,34.9 42.8,30.6 52.2,29.1 54.4,30.6 67.6,32.0 77.8,34.2 84.4,32.8 96.8,29.8 108.5,28.4 115.8,31.3 119.4,36.4 118.7,43.0 115.8,48.8 107.0,53.2 95.3,55.4 85.1,55.4 82.2,48.8 77.8,37.1 74.1,43.0 69.8,53.9 63.2,55.4 50.1,53.2 39.8,48.8 36.6,41.5" fill="url(#gA)" stroke="#8d9384" stroke-width="0.6" stroke-linejoin="round"/>
<polyline points="37.2,34.9 42.8,30.6 52.2,29.1 54.4,30.6 67.6,32.0 77.8,34.2 84.4,32.8 96.8,29.8 108.5,28.4 115.8,31.3 119.4,36.4" fill="none" stroke="#6f7668" stroke-width="0.9"/>
<polygon points="42.8,34.2 63.2,34.2 70.5,40.1 67.6,51.7 51.5,51.0 41.3,45.9" fill="#d3d8c2"/>
<polygon points="85.1,37.1 107.0,32.8 115.8,37.1 112.8,47.4 98.2,52.5 88.0,51.7" fill="#d0d5bd"/>
<polygon points="47.9,32.8 50.1,32.5 50.4,36.4 48.6,37.1" fill="#f4f6ee"/>
<polygon points="37.2,34.9 42.8,30.6 45.7,30.7 40.6,34.9 38.4,40.1 36.6,41.5" fill="#9aa090"/>
<polygon points="108.5,28.4 115.8,31.3 119.4,36.4 119.1,40.1 115.8,34.2 109.2,30.1" fill="#9aa090"/>
</g>
<g filter="url(#bl)">
<polygon points="39.1,165.9 44.2,161.5 53.0,160.0 55.9,161.5 70.5,162.9 80.7,164.4 89.5,162.2 105.5,158.6 115.8,160.8 121.6,165.1 120.1,172.4 116.5,180.5 104.1,184.8 89.5,186.7 84.4,176.8 81.4,169.5 77.8,175.4 73.4,186.3 63.2,185.6 50.1,183.4 41.3,179.7 38.4,172.4" fill="url(#gB)" stroke="#a08868" stroke-width="0.6" stroke-linejoin="round"/>
<polyline points="39.1,165.9 44.2,161.5 53.0,160.0 55.9,161.5 70.5,162.9 80.7,164.4 89.5,162.2 105.5,158.6 115.8,160.8 121.6,165.1" fill="none" stroke="#5c4a40" stroke-width="1.25"/>
<ellipse cx="48.9" cy="164.8" rx="2.2" ry="3" fill="#fff8f0"/>
<polygon points="107.0,163.7 117.9,165.9 117.2,176.8 109.9,181.2 108.5,171.0" fill="#cdb48c"/>
</g>
<g filter="url(#bl)">
<polygon points="39.8,288.1 44.2,283.7 57.4,282.5 70.5,285.9 84.4,288.1 95.3,284.4 112.8,280.0 123.1,279.3 127.4,283.7 127.4,292.4 121.6,301.2 109.9,306.3 95.3,309.2 90.9,301.2 85.1,290.2 80.7,297.5 77.8,307.8 66.1,307.0 53.0,304.1 42.8,298.3 39.8,292.4" fill="url(#gC)" stroke="#8d9a96" stroke-width="0.6" stroke-linejoin="round"/>
<polyline points="39.8,291.0 40.6,286.6 44.2,283.7 57.4,282.5 70.5,285.9 84.4,288.1 95.3,284.4 112.8,280.0 123.1,279.3 127.4,283.7" fill="none" stroke="#4e5a58" stroke-width="1"/>
<polygon points="39.8,288.1 44.2,284.0 47.9,284.3 44.2,286.6 42.0,291.7 39.8,292.1" fill="#4a5452"/>
<polygon points="112.8,280.0 123.1,279.3 127.4,283.7 126.8,286.6 121.6,282.2 113.6,281.9" fill="#4a5452"/>
<polygon points="82.2,287.2 84.4,288.1 87.3,286.9 85.1,289.8" fill="#6aa0c8"/>
<polygon points="50.1,288.1 67.6,289.5 76.3,295.4 74.9,304.8 60.3,303.4 51.5,296.8" fill="#d9e5e1"/>
<polygon points="92.4,292.4 109.9,286.6 121.6,288.1 120.1,298.3 107.0,304.1 96.8,305.6" fill="#d4e0da"/>
</g>
<ellipse cx="408.9" cy="54.9" rx="37" ry="5.5" fill="#fff7c8" filter="url(#bl2)"/>
<g filter="url(#bl4)">
<polygon points="367.3,39.3 373.1,32.8 381.9,31.3 402.3,33.5 409.6,36.4 403.8,45.9 400.9,55.4 384.8,56.1 373.1,53.9 368.0,47.4" fill="#30a79b" stroke="#4a6a62" stroke-width="0.5" stroke-linejoin="round"/>
<polygon points="370.9,37.1 376.1,32.8 385.5,33.5 388.5,39.3 381.9,43.7 371.7,41.5" fill="#6a675c" stroke="#8fc8c0" stroke-width="0.35" stroke-linejoin="round"/>
<polygon points="385.5,33.5 402.3,34.2 406.7,37.9 402.3,41.5 384.8,45.9 381.9,43.7 388.5,39.3" fill="#35b0a3"/>
<polygon points="368.0,40.1 371.7,41.5 381.9,43.7 384.1,46.6 381.9,54.7 373.1,53.9 368.0,47.4" fill="#2a8f8a"/>
<polygon points="384.1,46.6 402.3,41.5 403.8,45.9 400.9,55.4 384.8,55.8 381.9,54.7" fill="#5e5c52" stroke="#8fc8c0" stroke-width="0.35" stroke-linejoin="round"/>
<polygon points="410.4,37.1 416.9,32.8 441.8,29.1 447.6,34.9 448.3,41.5 444.7,48.8 430.1,54.7 418.4,56.1 414.0,48.8" fill="#30a79b" stroke="#4a6a62" stroke-width="0.5" stroke-linejoin="round"/>
<polygon points="416.2,33.5 430.1,32.0 429.3,37.1 434.5,42.2 424.2,43.7 415.5,39.3" fill="#5e5c52" stroke="#8fc8c0" stroke-width="0.35" stroke-linejoin="round"/>
<polygon points="430.1,32.0 441.8,29.8 446.9,35.7 434.5,42.2 429.3,37.1" fill="#3aa598"/>
<polygon points="411.1,38.6 415.5,39.3 424.2,43.7 434.5,42.2 437.4,51.0 430.1,54.7 418.4,55.8 414.0,48.8" fill="#2fa59a"/>
<polygon points="434.5,42.2 446.9,35.7 448.3,41.5 444.7,48.8 437.4,51.0" fill="#6a675c" stroke="#8fc8c0" stroke-width="0.35" stroke-linejoin="round"/>
<polygon points="401.6,33.1 409.6,33.9 417.2,32.5 416.2,36.8 410.4,38.3 403.8,37.4" fill="#4f6a64"/>
<polyline points="373.1,32.8 381.9,31.3 402.3,33.1 409.6,33.9 416.9,32.5 441.8,29.1" fill="none" stroke="#55605a" stroke-width="0.9"/>
</g>
<g filter="url(#bl4)">
<polygon points="365.8,163.7 371.7,158.6 383.4,158.6 402.3,161.5 409.6,162.9 406.7,168.1 399.4,184.8 381.9,181.2 370.2,176.8 366.6,171.0" fill="#4d8fa8" stroke="#5a5048" stroke-width="0.5" stroke-linejoin="round"/>
<polygon points="368.8,162.2 374.6,159.3 384.1,160.0 386.3,166.6 379.0,170.2 371.7,168.1" fill="#5a9ab2" stroke="#d6b866" stroke-width="0.4" stroke-linejoin="round"/>
<polygon points="384.1,160.0 401.6,161.5 403.8,167.3 393.6,173.9 386.3,166.6" fill="#8a6653" stroke="#d6b866" stroke-width="0.4" stroke-linejoin="round"/>
<polygon points="366.6,171.0 371.7,168.1 379.0,170.2 382.6,175.4 378.2,180.5 370.2,176.8" fill="#7a5a48" stroke="#d6b866" stroke-width="0.4" stroke-linejoin="round"/>
<polygon points="379.0,170.2 386.3,166.6 393.6,173.9 403.8,167.3 406.7,168.1 399.4,184.8 381.9,181.2 378.2,180.5 382.6,175.4" fill="#3f86a0" stroke="#d6b866" stroke-width="0.4" stroke-linejoin="round"/>
<polygon points="409.6,162.9 433.0,157.1 444.7,157.8 449.1,166.6 447.6,171.0 441.8,179.7 430.1,183.4 416.2,184.1 412.6,173.9 408.9,166.6" fill="#4d8fa8" stroke="#5a5048" stroke-width="0.5" stroke-linejoin="round"/>
<polygon points="412.6,164.4 430.1,159.3 433.0,168.1 425.7,173.2 416.9,168.8" fill="#5296b0" stroke="#d6b866" stroke-width="0.4" stroke-linejoin="round"/>
<polygon points="430.1,159.3 433.0,157.1 444.7,157.8 449.1,166.6 445.4,167.3 433.0,168.1" fill="#94705e" stroke="#d6b866" stroke-width="0.4" stroke-linejoin="round"/>
<polygon points="410.4,168.1 416.9,168.8 425.7,173.2 434.5,174.6 437.4,180.5 430.1,183.4 416.2,184.1 412.6,173.9" fill="#7a5a48" stroke="#d6b866" stroke-width="0.4" stroke-linejoin="round"/>
<polygon points="433.0,168.1 445.4,167.3 447.6,171.0 441.8,179.7 437.4,180.5 434.5,174.6" fill="#3f86a0" stroke="#d6b866" stroke-width="0.4" stroke-linejoin="round"/>
<polygon points="401.6,161.1 409.6,162.5 417.7,161.1 416.6,165.4 409.3,167.8 403.8,166.6" fill="#7d6a58" stroke="#d6b866" stroke-width="0.4" stroke-linejoin="round"/>
<polygon points="374.6,158.1 383.4,158.1 383.4,159.6 375.3,159.6" fill="#2a2a2a"/>
<polygon points="443.9,157.5 449.3,160.8 449.3,166.6 446.1,165.9" fill="#4a3a36"/>
</g>
<g filter="url(#bl4)">
<polygon points="367.3,285.1 370.9,280.0 386.3,278.6 402.3,280.8 409.6,283.7 406.7,289.5 399.4,305.6 380.4,301.2 370.2,296.1 366.6,290.2" fill="#62726f" stroke="#2c3a3e" stroke-width="0.6" stroke-linejoin="round"/>
<polygon points="373.1,283.7 383.4,281.5 396.5,282.9 399.4,288.1 393.6,292.4 379.0,289.5" fill="#83988f"/>
<polygon points="370.2,289.5 379.0,289.5 381.9,295.4 379.0,300.5 370.2,296.1" fill="#55645f"/>
<polygon points="381.9,295.4 393.6,292.4 402.3,293.9 399.4,304.8 380.4,300.9" fill="#465451"/>
<polyline points="383.4,281.5 384.8,286.6 379.0,289.5 381.9,295.4 393.6,292.4 399.4,288.1" fill="none" stroke="#c0d8d0" stroke-width="0.6"/>
<polyline points="381.9,295.4 379.0,300.5" fill="none" stroke="#c0d8d0" stroke-width="0.6"/>
<polygon points="409.6,283.7 421.3,280.8 441.8,278.6 447.6,281.5 449.1,288.1 443.2,299.0 430.1,303.4 416.9,305.3 412.6,293.9" fill="#62726f" stroke="#2c3a3e" stroke-width="0.6" stroke-linejoin="round"/>
<polygon points="415.5,285.1 430.1,282.2 433.0,288.1 424.2,292.4 415.5,291.0" fill="#6f8680"/>
<polygon points="433.0,288.1 446.1,285.1 447.6,288.8 443.2,298.3 435.9,299.7" fill="#55645f"/>
<polygon points="414.0,292.4 424.2,292.4 434.5,295.4 435.9,299.7 430.1,302.9 417.2,304.8" fill="#465451"/>
<polyline points="430.1,282.2 433.0,288.1 424.2,292.4 415.5,291.0" fill="none" stroke="#c0d8d0" stroke-width="0.6"/>
<polyline points="433.0,288.1 446.1,285.1" fill="none" stroke="#c0d8d0" stroke-width="0.6"/>
<polyline points="424.2,292.4 434.5,295.4 435.9,299.7" fill="none" stroke="#c0d8d0" stroke-width="0.6"/>
<polygon points="402.3,280.5 409.6,283.4 421.3,280.5 418.4,285.9 410.4,287.3 405.3,285.9" fill="#1e2a30"/>
<polyline points="367.3,288.4 369.1,283.4 372.0,280.8 386.3,279.3 402.3,281.6 409.6,284.8 421.3,281.6 441.8,279.3 447.0,281.9 448.8,287.8" fill="none" stroke="#1a242a" stroke-width="2.1" stroke-linejoin="round"/>
<polyline points="407.0,288.1 403.8,295.4 399.4,305.3" fill="none" stroke="#1e3038" stroke-width="1.1"/>
<polyline points="411.4,288.1 413.7,296.1 416.9,305.0" fill="none" stroke="#1e3038" stroke-width="1.1"/>
<polyline points="370.2,296.1 380.4,301.2 399.4,305.6" fill="none" stroke="#2a383c" stroke-width="0.8"/>
<polyline points="416.9,305.3 430.1,303.4 443.2,299.0" fill="none" stroke="#2a383c" stroke-width="0.8"/>
<polyline points="396.5,281.1 403.8,282.9 409.6,285.9" fill="none" stroke="#3a98b8" stroke-width="0.6"/>
</g>
<ellipse cx="644" cy="81.6" rx="4.5" ry="2.6" fill="#fbfad8" filter="url(#bl)"/>
<g clip-path="url(#k3)"><g filter="url(#bl3)">
<rect x="591" y="32" width="83" height="50" fill="#747c78"/>
<polygon points="591.0,32.0 605.5,32.0 604.3,42.9 591.0,44.1" fill="#6a6458"/>
<polygon points="593.4,36.8 599.5,35.6 598.3,41.7 593.4,42.9" fill="#8a7a62"/>
<polygon points="595.8,39.3 606.7,40.5 609.1,50.1 599.5,52.0 595.8,46.5" fill="#d2d6d6"/>
<polygon points="604.3,35.0 617.0,35.0 615.2,44.1 610.3,49.5 606.1,43.5" fill="#5c8a72"/>
<polygon points="591.0,47.7 598.3,47.7 598.9,56.2 591.0,56.8" fill="#587f6a"/>
<polygon points="598.3,51.3 610.3,50.1 611.0,60.4 598.9,60.4" fill="#7a7c7c"/>
<polygon points="616.4,35.0 627.3,33.6 628.5,46.5 621.2,48.3 615.8,44.1" fill="#4a4c50"/>
<polygon points="626.1,32.0 633.9,32.0 633.3,44.1 628.5,45.3" fill="#5a8870"/>
<polygon points="633.3,33.6 642.4,33.6 641.2,45.3 633.3,44.7" fill="#3a3c40"/>
<polygon points="640.6,36.8 651.5,35.0 654.5,46.5 651.5,55.0 643.0,54.4 638.8,45.3" fill="#c8cccc"/>
<polygon points="651.5,35.6 664.2,35.6 663.6,47.7 654.5,47.1" fill="#6a8a7a"/>
<polygon points="653.9,38.0 659.9,37.4 661.1,42.9 655.7,43.5" fill="#d8dcd8"/>
<polygon points="663.6,32.0 673.2,32.0 673.2,47.1 663.6,47.1" fill="#66807a"/>
<polygon points="666.0,39.3 671.3,38.7 671.3,44.1 666.6,44.1" fill="#c4ccc6"/>
<polygon points="611.0,50.1 621.2,48.9 621.8,57.4 611.6,58.0" fill="#c0ccb0"/>
<polygon points="617.0,45.3 630.9,44.7 632.1,54.4 621.8,55.0" fill="#5a8870"/>
<polygon points="627.3,52.0 636.9,50.7 647.2,68.3 632.7,69.5" fill="#4a7c64"/>
<polygon points="653.9,47.7 666.6,47.7 666.6,61.6 655.1,61.0 651.5,55.0" fill="#55585c"/>
<polygon points="644.2,56.2 654.5,55.6 655.1,66.5 646.6,67.1" fill="#7a7268"/>
<polygon points="598.3,61.0 615.2,60.4 616.4,76.1 599.5,76.1" fill="#1a1c1c"/>
<polygon points="610.3,56.8 625.5,56.2 626.1,72.5 615.8,72.5" fill="#686a6a"/>
<polygon points="624.3,71.9 632.7,71.3 632.7,80.4 624.3,80.4" fill="#202020"/>
<polygon points="631.5,67.1 648.4,66.5 648.4,80.4 632.1,80.4" fill="#4a7c64"/>
<polygon points="647.2,67.1 658.7,66.5 659.3,80.4 647.8,80.4" fill="#787878"/>
<polygon points="656.3,62.2 663.6,61.6 664.2,75.5 657.5,76.1" fill="#a89878"/>
<polygon points="663.6,59.8 673.2,59.8 673.2,71.3 664.2,70.7" fill="#d8dcd8"/>
<polygon points="663.6,70.7 673.2,70.7 673.2,80.4 663.6,80.4" fill="#6a8a7c"/>
<polygon points="591.0,62.2 598.5,61.6 599.2,80.4 591.0,80.4" fill="#5a8070"/>
<polygon points="600.7,73.1 606.1,72.5 605.5,80.4 600.1,80.4" fill="#b09870"/>
<rect x="619.0" y="42.5" width="2.2" height="2.2" fill="#f4f4f4"/>
<rect x="616.0" y="53.4" width="2.2" height="2.2" fill="#f4f4f4"/>
<rect x="625.1" y="49.1" width="2.2" height="2.2" fill="#f4f4f4"/>
<rect x="624.5" y="57.6" width="2.2" height="2.2" fill="#f4f4f4"/>
<rect x="618.4" y="61.8" width="2.2" height="2.2" fill="#f4f4f4"/>
<rect x="624.5" y="67.3" width="2.2" height="2.2" fill="#f4f4f4"/>
<rect x="617.8" y="68.5" width="2.2" height="2.2" fill="#f4f4f4"/>
<rect x="613.6" y="65.5" width="2.2" height="2.2" fill="#f4f4f4"/>
<rect x="655.9" y="38.9" width="2.2" height="2.2" fill="#f4f4f4"/>
<rect x="657.7" y="49.1" width="2.2" height="2.2" fill="#f4f4f4"/>
<rect x="652.9" y="44.3" width="2.2" height="2.2" fill="#f4f4f4"/>
<rect x="640.8" y="59.4" width="2.2" height="2.2" fill="#f4f4f4"/>
</g></g>
<g clip-path="url(#k6)"><g filter="url(#bl6)">
<rect x="590" y="156" width="86" height="54" fill="#4f7fb0"/>
<polygon points="592.0,158.0 612.6,158.0 606.5,165.3 592.0,167.7" fill="#3a6490"/>
<polygon points="592.0,167.1 606.5,164.0 613.8,162.8 611.3,167.1 618.0,172.5 624.0,179.2 626.5,184.8 620.4,187.6 612.6,185.2 607.7,178.6 602.9,174.3 592.0,174.3" fill="#5a3426"/>
<polygon points="607.7,173.7 618.0,173.1 624.0,179.5 625.9,184.6 620.4,187.0 613.2,184.8 608.9,179.2" fill="#7a4a34"/>
<polygon points="616.8,161.0 628.3,160.4 626.5,168.3 621.6,173.1 616.8,170.1" fill="#452a22"/>
<polygon points="628.3,158.0 642.8,158.0 640.4,165.3 629.5,166.5" fill="#41699a"/>
<polygon points="631.9,166.5 640.4,167.1 642.2,174.9 631.9,173.7" fill="#a4c6d8"/>
<polygon points="642.8,160.7 654.9,161.4 653.7,167.9 645.2,166.7" fill="#4aa0b8"/>
<polygon points="654.9,158.0 675.4,158.0 675.4,172.5 657.3,171.3" fill="#456fa0"/>
<polygon points="629.5,174.9 640.4,176.1 639.2,182.2 628.3,181.0" fill="#2c4e78"/>
<polygon points="632.5,178.0 639.2,178.6 638.6,180.7 633.7,180.5" fill="#b8a8a8"/>
<polygon points="654.3,173.7 675.4,171.3 675.4,184.4 664.6,182.8 659.7,178.0" fill="#563022"/>
<polygon points="642.2,191.9 652.5,188.0 667.0,186.8 675.4,188.0 675.4,194.3 654.9,198.1 643.4,199.7" fill="#643a2a"/>
<polygon points="643.8,196.5 649.1,195.7 649.1,198.6 645.0,198.6" fill="#ece4e4"/>
<polygon points="627.1,185.8 640.4,184.0 641.6,191.9 630.7,193.7" fill="#4a98b0"/>
<polygon points="592.0,188.8 607.7,188.2 623.4,192.5 642.8,199.7 642.8,202.1 616.2,197.9 592.0,196.7" fill="#27426a"/>
<polygon points="592.0,196.7 616.2,197.9 642.8,202.1 642.8,208.8 592.0,208.8" fill="#6a8cb0"/>
<polygon points="592.0,174.9 604.1,174.9 607.1,188.2 592.0,188.8" fill="#5686b8"/>
<polygon points="644.0,199.7 675.4,194.3 675.4,208.8 642.8,208.8" fill="#4a82b4"/>
<polygon points="669.4,183.6 675.4,183.6 675.4,188.2 669.4,187.6" fill="#c4e0ea"/>
<polygon points="640.4,176.1 659.7,184.0 642.8,186.1" fill="#6a9ac8"/>
<polygon points="613.8,187.6 627.1,186.4 630.7,194.3 622.2,193.1" fill="#3e6a9c"/>
</g></g>
<g clip-path="url(#k9)"><g filter="url(#bl3)">
<rect x="593" y="276" width="83" height="50" fill="#8c8484"/>
<polygon points="593.0,276.0 620.8,276.0 618.4,289.3 605.1,294.1 593.0,296.6" fill="#aaa4a6"/>
<polygon points="598.4,281.4 605.1,282.0 605.1,287.5 599.0,286.9" fill="#dcdcdc"/>
<polygon points="611.1,285.7 618.4,284.5 617.2,290.5 611.1,289.9" fill="#d0d0d0"/>
<polygon points="603.9,282.0 608.7,284.5 608.7,291.7 605.1,289.3" fill="#4a3c3c"/>
<polygon points="593.0,296.6 605.1,294.1 614.8,291.7 614.8,300.2 608.7,299.0 600.3,300.2 593.0,303.8" fill="#8a8688"/>
<polygon points="605.1,291.7 613.6,290.5 613.6,297.8 606.3,297.8" fill="#707c8c"/>
<polygon points="593.0,303.8 600.3,300.2 608.7,299.0 614.8,300.2 616.0,290.5 620.8,291.7 622.0,306.2 617.2,311.1 605.1,311.1 593.0,308.6" fill="#2a1a1a"/>
<polygon points="629.3,276.0 653.5,276.0 649.8,283.3 641.4,286.9 635.3,283.3" fill="#4a3a3a"/>
<polygon points="620.8,276.0 629.3,276.0 625.6,283.3 622.0,290.5" fill="#7a6a68"/>
<polygon points="653.5,276.0 675.2,276.0 675.2,285.7 658.3,285.7 652.3,283.3" fill="#5e4e4c"/>
<polygon points="658.3,285.7 668.0,286.9 670.4,303.8 663.1,309.9 658.9,300.2" fill="#4e6a8a"/>
<polygon points="641.4,286.9 649.8,283.3 658.3,299.0 649.8,302.0 642.6,299.0" fill="#94827e"/>
<polygon points="646.2,291.7 651.0,291.1 652.3,296.6 647.4,296.6" fill="#c8c0c0"/>
<polygon points="622.0,303.8 629.3,302.6 630.5,309.9 635.3,315.9 623.2,312.3" fill="#b0a8a6"/>
<polygon points="632.9,300.2 641.4,303.8 645.0,311.1 635.3,313.5 630.5,308.6" fill="#c4bebe"/>
<polygon points="625.6,283.3 631.7,284.5 637.7,291.7 642.6,299.0 649.8,302.0 657.1,299.0 655.9,303.8 646.2,306.2 637.7,301.4 632.9,296.6 629.3,302.6 630.5,309.9 635.3,315.9 634.1,322.6 628.1,322.6 626.9,311.1 625.0,297.8" fill="#33221f"/>
<polygon points="593.0,311.1 623.2,312.3 623.2,325.6 593.0,325.6" fill="#6a717e"/>
<polygon points="603.9,313.5 620.8,314.7 619.6,321.9 605.1,321.3" fill="#52688a"/>
<polygon points="596.6,312.3 603.9,312.3 603.9,317.1 596.6,317.7" fill="#9a9494"/>
<polygon points="645.0,309.9 658.3,312.3 657.1,325.6 641.4,325.6" fill="#56729a"/>
<polygon points="645.0,307.4 649.8,306.8 651.0,311.1 646.2,312.3" fill="#ececec"/>
<polygon points="649.8,315.9 654.7,316.5 653.5,320.7" fill="#dcdcdc"/>
<polygon points="660.7,312.3 675.2,307.4 675.2,325.6 658.3,325.6" fill="#35282a"/>
<polygon points="668.0,286.9 675.2,285.7 675.2,307.4 670.4,303.8" fill="#a49c9a"/>
<polygon points="635.3,315.9 641.4,314.7 641.4,325.6 634.1,325.6" fill="#7a7674"/>
</g></g>
<rect x="34.40" y="24.10" width="196.40" height="95.30" fill="none" stroke="#85858a" stroke-width="1"/>
<path d="M67.13,119.40v-2.2M67.13,24.10v2.2M99.87,119.40v-2.2M99.87,24.10v2.2M132.60,119.40v-2.2M132.60,24.10v2.2M165.33,119.40v-2.2M165.33,24.10v2.2M198.07,119.40v-2.2M198.07,24.10v2.2M34.40,103.52h2.2M230.80,103.52h-2.2M34.40,87.63h2.2M230.80,87.63h-2.2M34.40,71.75h2.2M230.80,71.75h-2.2M34.40,55.87h2.2M230.80,55.87h-2.2M34.40,39.98h2.2M230.80,39.98h-2.2" stroke="#555" stroke-width="0.8" fill="none"/>
<g class="tk">
<text x="34.40" y="127.30" text-anchor="middle">0</text>
<text x="67.13" y="127.30" text-anchor="middle">50</text>
<text x="99.87" y="127.30" text-anchor="middle">100</text>
<text x="132.60" y="127.30" text-anchor="middle">150</text>
<text x="165.33" y="127.30" text-anchor="middle">200</text>
<text x="198.07" y="127.30" text-anchor="middle">250</text>
<text x="230.80" y="127.30" text-anchor="middle">300</text>
<text x="33.80" y="122.30" text-anchor="end">0</text>
<text x="33.80" y="106.42" text-anchor="end">0.01</text>
<text x="33.80" y="90.53" text-anchor="end">0.02</text>
<text x="33.80" y="74.65" text-anchor="end">0.03</text>
<text x="33.80" y="58.77" text-anchor="end">0.04</text>
<text x="33.80" y="42.88" text-anchor="end">0.05</text>
<text x="33.80" y="27.00" text-anchor="end">0.06</text>
</g>
<rect x="256.30" y="26.40" width="196.60" height="93.90" fill="none" stroke="#85858a" stroke-width="1"/>
<path d="M289.07,120.30v-2.2M289.07,26.40v2.2M321.83,120.30v-2.2M321.83,26.40v2.2M354.60,120.30v-2.2M354.60,26.40v2.2M387.37,120.30v-2.2M387.37,26.40v2.2M420.13,120.30v-2.2M420.13,26.40v2.2M256.30,104.65h2.2M452.90,104.65h-2.2M256.30,89.00h2.2M452.90,89.00h-2.2M256.30,73.35h2.2M452.90,73.35h-2.2M256.30,57.70h2.2M452.90,57.70h-2.2M256.30,42.05h2.2M452.90,42.05h-2.2" stroke="#555" stroke-width="0.8" fill="none"/>
<g class="tk">
<text x="256.30" y="128.20" text-anchor="middle">0</text>
<text x="289.07" y="128.20" text-anchor="middle">50</text>
<text x="321.83" y="128.20" text-anchor="middle">100</text>
<text x="354.60" y="128.20" text-anchor="middle">150</text>
<text x="387.37" y="128.20" text-anchor="middle">200</text>
<text x="420.13" y="128.20" text-anchor="middle">250</text>
<text x="452.90" y="128.20" text-anchor="middle">300</text>
<text x="255.70" y="123.20" text-anchor="end">0</text>
<text x="255.70" y="107.55" text-anchor="end">0.002</text>
<text x="255.70" y="91.90" text-anchor="end">0.004</text>
<text x="255.70" y="76.25" text-anchor="end">0.006</text>
<text x="255.70" y="60.60" text-anchor="end">0.008</text>
<text x="255.70" y="44.95" text-anchor="end">0.01</text>
<text x="255.70" y="29.30" text-anchor="end">0.012</text>
</g>
<rect x="480.00" y="30.40" width="195.70" height="90.80" fill="none" stroke="#85858a" stroke-width="1"/>
<path d="M512.62,121.20v-2.2M512.62,30.40v2.2M545.23,121.20v-2.2M545.23,30.40v2.2M577.85,121.20v-2.2M577.85,30.40v2.2M610.47,121.20v-2.2M610.47,30.40v2.2M643.08,121.20v-2.2M643.08,30.40v2.2M480.00,90.93h2.2M675.70,90.93h-2.2M480.00,60.67h2.2M675.70,60.67h-2.2" stroke="#555" stroke-width="0.8" fill="none"/>
<g class="tk">
<text x="480.00" y="129.10" text-anchor="middle">0</text>
<text x="512.62" y="129.10" text-anchor="middle">50</text>
<text x="545.23" y="129.10" text-anchor="middle">100</text>
<text x="577.85" y="129.10" text-anchor="middle">150</text>
<text x="610.47" y="129.10" text-anchor="middle">200</text>
<text x="643.08" y="129.10" text-anchor="middle">250</text>
<text x="675.70" y="129.10" text-anchor="middle">300</text>
<text x="479.40" y="124.10" text-anchor="end">0</text>
<text x="479.40" y="93.83" text-anchor="end">0.005</text>
<text x="479.40" y="63.57" text-anchor="end">0.01</text>
<text x="479.40" y="33.30" text-anchor="end">0.015</text>
</g>
<rect x="34.40" y="153.10" width="196.70" height="94.20" fill="none" stroke="#85858a" stroke-width="1"/>
<path d="M67.18,247.30v-2.2M67.18,153.10v2.2M99.97,247.30v-2.2M99.97,153.10v2.2M132.75,247.30v-2.2M132.75,153.10v2.2M165.53,247.30v-2.2M165.53,153.10v2.2M198.32,247.30v-2.2M198.32,153.10v2.2M34.40,223.75h2.2M231.10,223.75h-2.2M34.40,200.20h2.2M231.10,200.20h-2.2M34.40,176.65h2.2M231.10,176.65h-2.2" stroke="#555" stroke-width="0.8" fill="none"/>
<g class="tk">
<text x="34.40" y="255.20" text-anchor="middle">0</text>
<text x="67.18" y="255.20" text-anchor="middle">50</text>
<text x="99.97" y="255.20" text-anchor="middle">100</text>
<text x="132.75" y="255.20" text-anchor="middle">150</text>
<text x="165.53" y="255.20" text-anchor="middle">200</text>
<text x="198.32" y="255.20" text-anchor="middle">250</text>
<text x="231.10" y="255.20" text-anchor="middle">300</text>
<text x="33.80" y="250.20" text-anchor="end">0</text>
<text x="33.80" y="226.65" text-anchor="end">0.02</text>
<text x="33.80" y="203.10" text-anchor="end">0.04</text>
<text x="33.80" y="179.55" text-anchor="end">0.06</text>
<text x="33.80" y="156.00" text-anchor="end">0.08</text>
</g>
<rect x="255.70" y="153.10" width="196.20" height="94.20" fill="none" stroke="#85858a" stroke-width="1"/>
<path d="M288.40,247.30v-2.2M288.40,153.10v2.2M321.10,247.30v-2.2M321.10,153.10v2.2M353.80,247.30v-2.2M353.80,153.10v2.2M386.50,247.30v-2.2M386.50,153.10v2.2M419.20,247.30v-2.2M419.20,153.10v2.2M255.70,215.90h2.2M451.90,215.90h-2.2M255.70,184.50h2.2M451.90,184.50h-2.2" stroke="#555" stroke-width="0.8" fill="none"/>
<g class="tk" clip-path="url(#c5)">
<text x="255.70" y="255.20" text-anchor="middle">0</text>
<text x="288.40" y="255.20" text-anchor="middle">50</text>
<text x="321.10" y="255.20" text-anchor="middle">100</text>
<text x="353.80" y="255.20" text-anchor="middle">150</text>
<text x="386.50" y="255.20" text-anchor="middle">200</text>
<text x="419.20" y="255.20" text-anchor="middle">250</text>
<text x="451.90" y="255.20" text-anchor="middle">300</text>
<text x="255.10" y="250.20" text-anchor="end">0</text>
<text x="255.10" y="218.80" text-anchor="end">0.005</text>
<text x="255.10" y="187.40" text-anchor="end">0.01</text>
<text x="255.10" y="156.00" text-anchor="end">0.015</text>
</g>
<rect x="480.00" y="156.80" width="195.70" height="94.40" fill="none" stroke="#85858a" stroke-width="1"/>
<path d="M512.62,251.20v-2.2M512.62,156.80v2.2M545.23,251.20v-2.2M545.23,156.80v2.2M577.85,251.20v-2.2M577.85,156.80v2.2M610.47,251.20v-2.2M610.47,156.80v2.2M643.08,251.20v-2.2M643.08,156.80v2.2M480.00,235.47h2.2M675.70,235.47h-2.2M480.00,219.73h2.2M675.70,219.73h-2.2M480.00,204.00h2.2M675.70,204.00h-2.2M480.00,188.27h2.2M675.70,188.27h-2.2M480.00,172.53h2.2M675.70,172.53h-2.2" stroke="#555" stroke-width="0.8" fill="none"/>
<g class="tk">
<text x="480.00" y="259.10" text-anchor="middle">0</text>
<text x="512.62" y="259.10" text-anchor="middle">50</text>
<text x="545.23" y="259.10" text-anchor="middle">100</text>
<text x="577.85" y="259.10" text-anchor="middle">150</text>
<text x="610.47" y="259.10" text-anchor="middle">200</text>
<text x="643.08" y="259.10" text-anchor="middle">250</text>
<text x="675.70" y="259.10" text-anchor="middle">300</text>
<text x="479.40" y="254.10" text-anchor="end">0</text>
<text x="479.40" y="238.37" text-anchor="end">0.002</text>
<text x="479.40" y="222.63" text-anchor="end">0.004</text>
<text x="479.40" y="206.90" text-anchor="end">0.006</text>
<text x="479.40" y="191.17" text-anchor="end">0.008</text>
<text x="479.40" y="175.43" text-anchor="end">0.01</text>
<text x="479.40" y="159.70" text-anchor="end">0.012</text>
</g>
<rect x="34.40" y="274.30" width="196.70" height="93.80" fill="none" stroke="#85858a" stroke-width="1"/>
<path d="M67.18,368.10v-2.2M67.18,274.30v2.2M99.97,368.10v-2.2M99.97,274.30v2.2M132.75,368.10v-2.2M132.75,274.30v2.2M165.53,368.10v-2.2M165.53,274.30v2.2M198.32,368.10v-2.2M198.32,274.30v2.2M34.40,349.34h2.2M231.10,349.34h-2.2M34.40,330.58h2.2M231.10,330.58h-2.2M34.40,311.82h2.2M231.10,311.82h-2.2M34.40,293.06h2.2M231.10,293.06h-2.2" stroke="#555" stroke-width="0.8" fill="none"/>
<g class="tk">
<text x="34.40" y="376.00" text-anchor="middle">0</text>
<text x="67.18" y="376.00" text-anchor="middle">50</text>
<text x="99.97" y="376.00" text-anchor="middle">100</text>
<text x="132.75" y="376.00" text-anchor="middle">150</text>
<text x="165.53" y="376.00" text-anchor="middle">200</text>
<text x="198.32" y="376.00" text-anchor="middle">250</text>
<text x="231.10" y="376.00" text-anchor="middle">300</text>
<text x="33.80" y="371.00" text-anchor="end">0</text>
<text x="33.80" y="352.24" text-anchor="end">0.01</text>
<text x="33.80" y="333.48" text-anchor="end">0.02</text>
<text x="33.80" y="314.72" text-anchor="end">0.03</text>
<text x="33.80" y="295.96" text-anchor="end">0.04</text>
<text x="33.80" y="277.20" text-anchor="end">0.05</text>
</g>
<rect x="258.30" y="274.10" width="196.20" height="94.00" fill="none" stroke="#85858a" stroke-width="1"/>
<path d="M291.00,368.10v-2.2M291.00,274.10v2.2M323.70,368.10v-2.2M323.70,274.10v2.2M356.40,368.10v-2.2M356.40,274.10v2.2M389.10,368.10v-2.2M389.10,274.10v2.2M421.80,368.10v-2.2M421.80,274.10v2.2M258.30,349.30h2.2M454.50,349.30h-2.2M258.30,330.50h2.2M454.50,330.50h-2.2M258.30,311.70h2.2M454.50,311.70h-2.2M258.30,292.90h2.2M454.50,292.90h-2.2" stroke="#555" stroke-width="0.8" fill="none"/>
<g class="tk">
<text x="258.30" y="376.00" text-anchor="middle">0</text>
<text x="291.00" y="376.00" text-anchor="middle">50</text>
<text x="323.70" y="376.00" text-anchor="middle">100</text>
<text x="356.40" y="376.00" text-anchor="middle">150</text>
<text x="389.10" y="376.00" text-anchor="middle">200</text>
<text x="421.80" y="376.00" text-anchor="middle">250</text>
<text x="454.50" y="376.00" text-anchor="middle">300</text>
<text x="257.70" y="371.00" text-anchor="end">0</text>
<text x="257.70" y="352.20" text-anchor="end">0.002</text>
<text x="257.70" y="333.40" text-anchor="end">0.004</text>
<text x="257.70" y="314.60" text-anchor="end">0.006</text>
<text x="257.70" y="295.80" text-anchor="end">0.008</text>
<text x="257.70" y="277.00" text-anchor="end">0.01</text>
</g>
<rect x="481.20" y="274.10" width="196.40" height="94.00" fill="none" stroke="#85858a" stroke-width="1"/>
<path d="M513.93,368.10v-2.2M513.93,274.10v2.2M546.67,368.10v-2.2M546.67,274.10v2.2M579.40,368.10v-2.2M579.40,274.10v2.2M612.13,368.10v-2.2M612.13,274.10v2.2M644.87,368.10v-2.2M644.87,274.10v2.2M481.20,349.30h2.2M677.60,349.30h-2.2M481.20,330.50h2.2M677.60,330.50h-2.2M481.20,311.70h2.2M677.60,311.70h-2.2M481.20,292.90h2.2M677.60,292.90h-2.2" stroke="#555" stroke-width="0.8" fill="none"/>
<g class="tk">
<text x="481.20" y="376.00" text-anchor="middle">0</text>
<text x="513.93" y="376.00" text-anchor="middle">50</text>
<text x="546.67" y="376.00" text-anchor="middle">100</text>
<text x="579.40" y="376.00" text-anchor="middle">150</text>
<text x="612.13" y="376.00" text-anchor="middle">200</text>
<text x="644.87" y="376.00" text-anchor="middle">250</text>
<text x="677.60" y="376.00" text-anchor="middle">300</text>
<text x="480.60" y="371.00" text-anchor="end">0</text>
<text x="480.60" y="352.20" text-anchor="end">0.002</text>
<text x="480.60" y="333.40" text-anchor="end">0.004</text>
<text x="480.60" y="314.60" text-anchor="end">0.006</text>
<text x="480.60" y="295.80" text-anchor="end">0.008</text>
<text x="480.60" y="277.00" text-anchor="end">0.01</text>
</g>
<g class="tt">
<text x="137.3" y="10.6" text-anchor="middle">Uncamouflage lenses</text>
<text x="352.5" y="10.6" text-anchor="middle">Camouflage lenses</text>
<text x="570.7" y="10.6" text-anchor="middle">Backgrounds</text>
<text x="358.6" y="401.1" text-anchor="middle">Brightness</text>
<text transform="translate(11,198.3) rotate(-90)" text-anchor="middle">Pixel fraction</text>
</g>
</svg>
</body></html>
